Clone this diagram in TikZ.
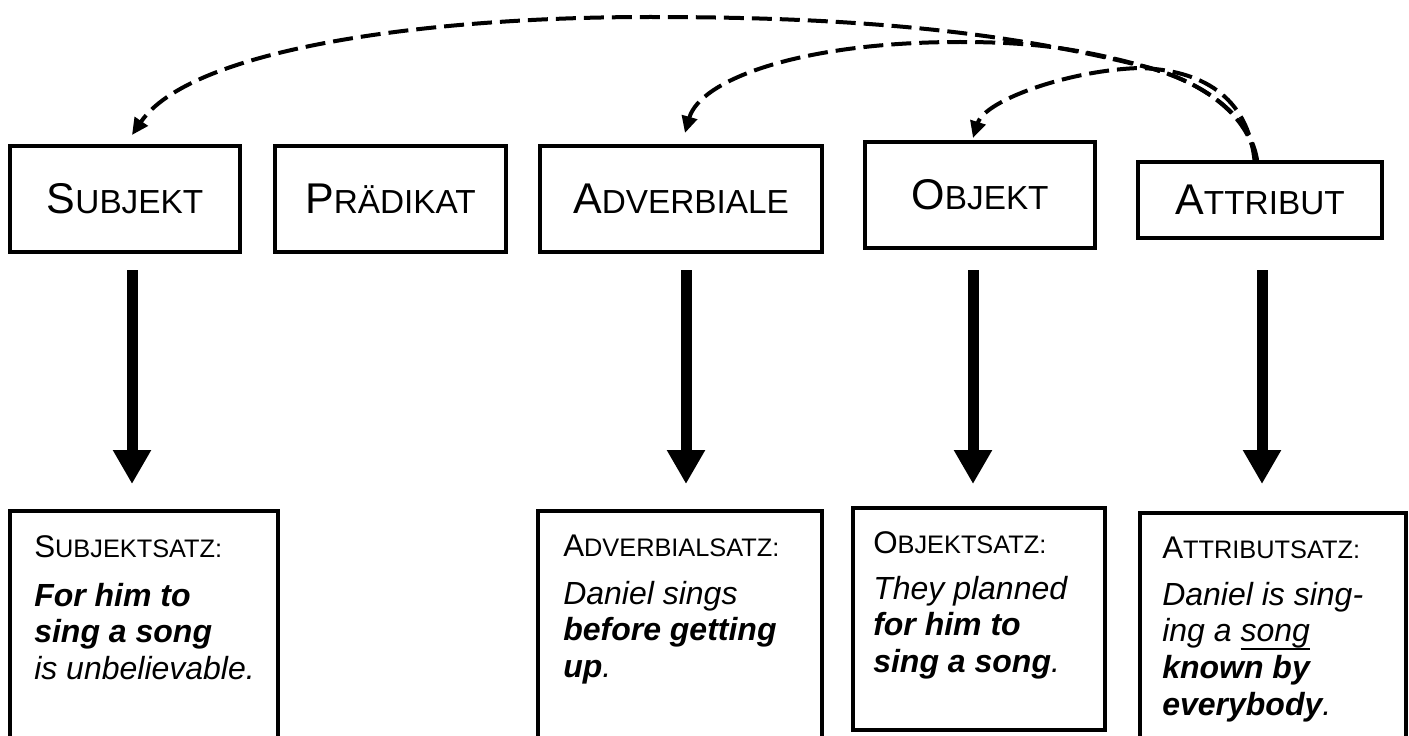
\documentclass[tikz,border=0pt]{standalone}
\usepackage{fontspec}
\setmainfont{Liberation Sans}
\usetikzlibrary{arrows.meta}
\newcommand\TopCap[2]{{\fontsize{32.25pt}{38pt}\selectfont #1}{\fontsize{25pt}{30pt}\selectfont #2}}
\newcommand\HeadCap[2]{{\fontsize{23.5pt}{27pt}\selectfont #1}{\fontsize{19pt}{22pt}\selectfont #2}}
\newcommand\BodyText[1]{\parbox[t]{250pt}{\raggedright\fontsize{24pt}{27.5pt}\selectfont\itshape #1}}
\newcommand\ThickUL[1]{{\setbox0\hbox{#1}\rlap{\rule[-6.5pt]{\wd0}{1.4pt}}\box0}}
\begin{document}
\begin{tikzpicture}[x=0.75pt,y=-0.75pt,
  topbox/.style={draw, line width=3.4pt, inner sep=0pt, outer sep=0pt, minimum height=79.5pt},
  satzbox/.style={draw, line width=3.4pt, inner sep=0pt, outer sep=0pt},
  headtxt/.style={anchor=base west, inner sep=0pt},
  bodytxt/.style={anchor=base west, inner sep=0pt},
  bigarrow/.style={line width=8.25pt, -{Triangle[length=25.5pt,width=27pt]}},
  dashcurve/.style={line width=3pt, dash pattern=on 15pt off 6pt, -{Triangle[length=12.5pt,width=11.5pt]}}]
\useasboundingbox (0,0) rectangle (1409,735);

% top boxes
\node[topbox, minimum width=172.5pt] (subj) at (125,199) {\TopCap{S}{UBJEKT}};
\node[topbox, minimum width=173.25pt] (pred) at (390.5,199) {\TopCap{P}{RÄDIKAT}};
\node[topbox, minimum width=211.5pt] (adv) at (681,199) {\TopCap{A}{DVERBIALE}};
\node[topbox, minimum width=172.5pt] (obj) at (980,195) {\TopCap{O}{BJEKT}};
\node[topbox, minimum width=183pt, minimum height=57pt] (attr) at (1260,200) {\TopCap{A}{TTRIBUT}};

% bottom boxes
\node[satzbox, minimum width=201pt, minimum height=216.75pt] (subjs) at (144,655.5) {};
\node[satzbox, minimum width=213pt, minimum height=216.75pt] (advs) at (680,655.5) {};
\node[satzbox, minimum width=189pt, minimum height=166.5pt] (objs) at (979,619) {};
\node[satzbox, minimum width=199.5pt, minimum height=215.25pt] (attrs) at (1273,656.5) {};

% texts in bottom boxes
\node[headtxt] (subjh) at ([shift={(24,46)}]subjs.north west) {\HeadCap{S}{UBJEKTSATZ:}};
\node[bodytxt] (subjb) at ([shift={(24,95)}]subjs.north west)
  {\BodyText{\textbf{For him to}\\\textbf{sing a song}\\is unbelievable.}};
\node[headtxt] (advh) at ([shift={(25,45)}]advs.north west) {\HeadCap{A}{DVERBIALSATZ:}};
\node[bodytxt] (advb) at ([shift={(25,93)}]advs.north west)
  {\BodyText{Daniel sings\\\textbf{before getting}\\\textbf{up}.}};
\node[headtxt] (objh) at ([shift={(20,45)}]objs.north west) {\HeadCap{O}{BJEKTSATZ:}};
\node[bodytxt] (objb) at ([shift={(20,91)}]objs.north west)
  {\BodyText{They planned\\\textbf{for him to}\\\textbf{sing a song}.}};
\node[headtxt] (attrh) at ([shift={(22,45)}]attrs.north west) {\HeadCap{A}{TTRIBUTSATZ:}};
\node[bodytxt] (attrb) at ([shift={(22,92)}]attrs.north west)
  {\BodyText{Daniel is sing-\\ing a \ThickUL{song}\\\textbf{known by}\\\textbf{everybody}.}};

% vertical arrows
\draw[bigarrow, shorten <=13.5pt, shorten >=20.25pt] ([xshift=5.25pt]subj.south) -- ([xshift=-9pt]subjs.north);
\draw[bigarrow, shorten <=13.5pt, shorten >=20.25pt] ([xshift=3.75pt]adv.south) -- ([xshift=4.5pt]advs.north);
\draw[bigarrow, shorten <=16.5pt, shorten >=18pt] ([xshift=-5.25pt]obj.south) -- ([xshift=-4.5pt]objs.north);
\draw[bigarrow, shorten <=24pt, shorten >=21.75pt] ([xshift=1.5pt]attr.south) -- ([xshift=-8.25pt]attrs.north);

% dashed curves
\draw[dashcurve] ([xshift=-3pt]attr.north) .. controls (1251,120) and (1210,85) .. (1150,68)
   .. controls (1000,30) and (850,17) .. (650,17)
   .. controls (420,17) and (190,50) .. ([xshift=5.25pt,yshift=8.25pt]subj.north);
\draw[dashcurve] ([xshift=-2pt]attr.north) .. controls (1252,120) and (1210,85) .. (1150,68)
   .. controls (1080,48) and (1030,42) .. (960,42)
   .. controls (800,42) and (700,80) .. ([xshift=3pt,yshift=9.75pt]adv.north);
\draw[dashcurve] ([xshift=-4pt]attr.north) .. controls (1248,95) and (1200,70) .. (1140,68)
   .. controls (1070,70) and (985,100) .. ([xshift=-5.25pt,yshift=3pt]obj.north);
\end{tikzpicture}
\end{document}
